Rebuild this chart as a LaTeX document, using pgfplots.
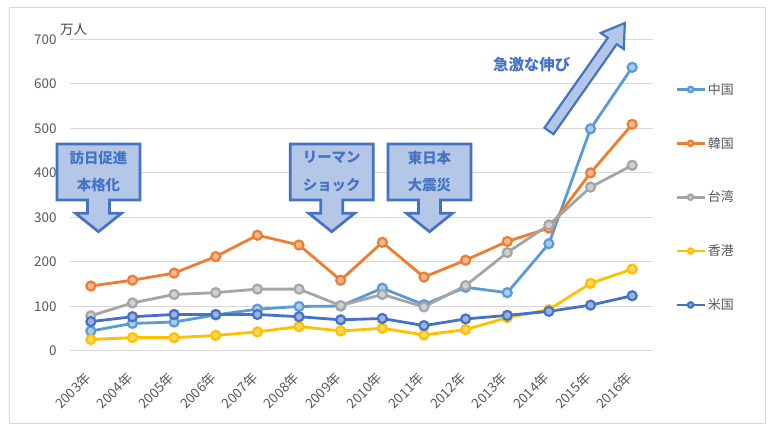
\documentclass[border=0pt]{standalone}
\usepackage{fontspec}
\setmainfont{Noto Sans CJK JP}
\usepackage{pgfplots}
\pgfplotsset{compat=1.18}
\definecolor{cn}{HTML}{5B9BD5}\definecolor{cnl}{HTML}{A9CDEE}
\definecolor{kr}{HTML}{ED7D31}\definecolor{krl}{HTML}{F6B894}
\definecolor{tw}{HTML}{A5A5A5}\definecolor{twl}{HTML}{D0D0D0}
\definecolor{hk}{HTML}{FFC000}\definecolor{hkl}{HTML}{FFD75E}
\definecolor{us}{HTML}{4472C4}\definecolor{usl}{HTML}{9AB3E0}
\definecolor{gridgrey}{HTML}{D9D9D9}
\definecolor{tickgrey}{HTML}{595959}
\definecolor{annblue}{HTML}{4472C4}
\definecolor{annfill}{HTML}{B4C7E7}
\newcommand{\callout}[3]{%
  \draw[draw=annblue, fill=annfill, line width=2.7bp, line join=miter]
    (#1-41.5,288) -- (#1+41.5,288) -- (#1+41.5,232) -- (#1+11,232) -- (#1+11,218.7)
    -- (#1+23,218.7) -- (#1,200.3) -- (#1-23,218.7) -- (#1-11,218.7) -- (#1-11,232)
    -- (#1-41.5,232) -- cycle;
  \node[text=annblue, font=\bfseries\fontsize{14.5}{16}\selectfont] at (#1,274.3) {#2};
  \node[text=annblue, font=\bfseries\fontsize{14.5}{16}\selectfont] at (#1,247) {#3};
}
\begin{document}
\begin{tikzpicture}
\path[use as bounding box, fill=white] (0bp,0bp) rectangle (772bp,432bp);
\draw[color=gridgrey, line width=1bp] (9bp,8bp) rectangle (765bp,424bp);
\begin{axis}[
  at={(70bp,81bp)}, anchor=south west, scale only axis,
  width=583bp, height=311.7bp,
  xmin=-0.5, xmax=13.5, ymin=0, ymax=700,
  axis line style={draw=none},
  tick style={draw=none},
  ymajorgrids, grid style={color=gridgrey, line width=1bp},
  ytick={0,100,...,700},
  xtick={0,...,13},
  xticklabels={2003年,2004年,2005年,2006年,2007年,2008年,2009年,2010年,2011年,2012年,2013年,2014年,2015年,2016年},
  ticklabel style={font=\fontsize{13.5}{15}\selectfont, text=tickgrey},
  xticklabel style={xshift=0bp, yshift=-10bp, rotate=45, anchor=east},
  xticklabel shift=12bp,
  yticklabel shift=10bp,
  /pgf/number format/assume math mode=true,
  clip=false,
  legend cell align=left,
  legend style={at={(1.0377,0.866)}, anchor=north west, draw=none, fill=none,
    inner sep=0pt, row sep=37.5bp, font=\fontsize{13}{15}\selectfont, text=tickgrey},
  legend image code/.code={%
    \draw[mark repeat=2, mark phase=2, #1, every mark/.append style={scale=0.6}]
      plot coordinates {(0bp,0bp) (14bp,0bp) (28bp,0bp)};},
]
\addplot[color=cn, line width=2.8bp, mark=*, mark size=4.5bp, mark options={fill=cnl, line width=2.2bp}]
 coordinates {(0,45) (1,62) (2,65) (3,81) (4,94) (5,100) (6,101) (7,141) (8,104) (9,143) (10,131) (11,241) (12,499) (13,637)};
\addplot[color=kr, line width=2.8bp, mark=*, mark size=4.5bp, mark options={fill=krl, line width=2.2bp}]
 coordinates {(0,146) (1,159) (2,175) (3,212) (4,260) (5,238) (6,159) (7,244) (8,166) (9,204) (10,246) (11,276) (12,400) (13,509)};
\addplot[color=tw, line width=2.8bp, mark=*, mark size=4.5bp, mark options={fill=twl, line width=2.2bp}]
 coordinates {(0,79) (1,108) (2,127) (3,131) (4,139) (5,139) (6,102) (7,127) (8,99) (9,147) (10,221) (11,283) (12,368) (13,417)};
\addplot[color=hk, line width=2.8bp, mark=*, mark size=4.5bp, mark options={fill=hkl, line width=2.2bp}]
 coordinates {(0,26) (1,30) (2,30) (3,35) (4,43) (5,55) (6,45) (7,51) (8,36) (9,48) (10,75) (11,93) (12,152) (13,184)};
\addplot[color=us, line width=2.8bp, mark=*, mark size=4.5bp, mark options={fill=usl, line width=2.2bp}]
 coordinates {(0,66) (1,77) (2,82) (3,82) (4,82) (5,77) (6,70) (7,73) (8,57) (9,72) (10,80) (11,89) (12,103) (13,124)};
\legend{中国,韓国,台湾,香港,米国}
\end{axis}
\begin{scope}[x=1bp,y=1bp]
\node[anchor=west, text=black!75, font=\fontsize{13.5}{15}\selectfont, inner sep=0pt] at (60,402) {万人};
\callout{98.5}{訪日促進}{本格化}
\callout{331.7}{リーマン}{ショック}
\callout{429.5}{東日本}{大震災}
\begin{scope}[shift={(549,301)}, rotate=54.9]
\draw[draw=annblue, fill=annfill, line width=2.2bp, line join=miter]
  (0,-5.5) -- (110,-5.5) -- (110,-14) -- (132,0) -- (110,14) -- (110,5.5) -- (0,5.5) -- cycle;
\end{scope}
\node[text=annblue, font=\bfseries\fontsize{15.5}{17}\selectfont] at (531.7,367) {急激な伸び};
\end{scope}
\end{tikzpicture}
\end{document}
